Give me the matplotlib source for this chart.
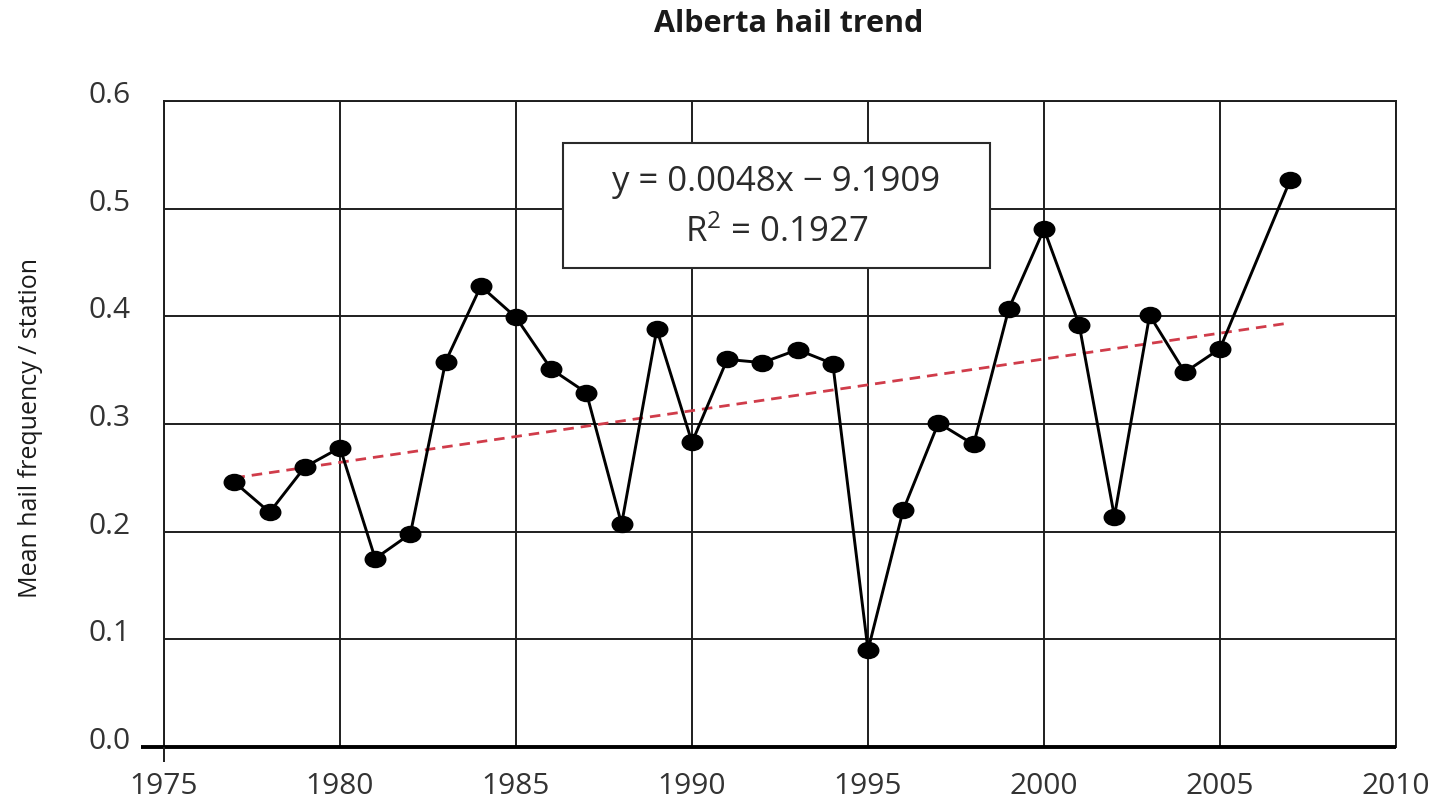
import numpy as np
import matplotlib
matplotlib.use("Agg")
import matplotlib.pyplot as plt
from matplotlib.path import Path
from matplotlib.patches import Rectangle
from matplotlib.transforms import Affine2D, ScaledTranslation

# ---- data ----
years = [1977, 1978, 1979, 1980, 1981, 1982, 1983, 1984, 1985, 1986,
         1987, 1988, 1989, 1990, 1991, 1992, 1993, 1994, 1995, 1996,
         1997, 1998, 1999, 2000, 2001, 2002, 2003, 2004, 2005, 2007]
hail = [0.246, 0.218, 0.260, 0.278, 0.175, 0.198, 0.358, 0.428, 0.399, 0.351,
        0.329, 0.207, 0.388, 0.283, 0.360, 0.357, 0.369, 0.356, 0.090, 0.220,
        0.301, 0.281, 0.407, 0.481, 0.392, 0.214, 0.401, 0.348, 0.370, 0.527]
trend_slope = 0.0048   # slope quoted in the chart's equation box
xticks = [1975, 1980, 1985, 1990, 1995, 2000, 2005, 2010]
yticks = [0.0, 0.1, 0.2, 0.3, 0.4, 0.5, 0.6]
ytick_labels = ["0.0", "0.1", "0.2", "0.3", "0.4", "0.5", "0.6"]
title = "Alberta hail trend"
ylabel = "Mean hail frequency / station"
eq_line1 = "y = 0.0048x \u2212 9.1909"
eq_line2 = "R$^{2}$ = 0.1927"

plt.rcParams['font.family'] = ['Open Sans', 'DejaVu Sans']
plt.rcParams['mathtext.fontset'] = 'custom'
plt.rcParams['mathtext.rm'] = 'Open Sans'
plt.rcParams['mathtext.it'] = 'Open Sans'
plt.rcParams['mathtext.default'] = 'regular'

W, H = 1434, 802
fig = plt.figure(figsize=(W / 100, H / 100), dpi=100)
ax_l, ax_r, ax_t, ax_b = 164, 1396, 101, 747
ax = fig.add_axes([ax_l / W, 1 - ax_b / H, (ax_r - ax_l) / W, (ax_b - ax_t) / H])

ax.set_xlim(1975, 2010)
ax.set_ylim(0, 0.6)
ax.set_xticks(xticks)
ax.set_yticks(yticks)
ax.set_yticklabels(ytick_labels)

gridc = '#1e1e1e'
ax.grid(True, color=gridc, linewidth=1.4, zorder=0)
ax.set_axisbelow(True)
ax.tick_params(axis='both', length=0, labelsize=21.5, labelcolor='#333333')
ax.tick_params(axis='x', pad=18)
ax.tick_params(axis='y', pad=24)

for t in ax.yaxis.get_major_ticks():
    t.label1.set_transform(t.label1.get_transform() +
                           ScaledTranslation(0, 9 / 100, fig.dpi_scale_trans))

for s in ['left', 'right', 'top']:
    ax.spines[s].set_linewidth(1.4)
    ax.spines[s].set_color(gridc)
ax.spines['bottom'].set_visible(False)

pw = ax_r - ax_l
ph = ax_b - ax_t
# thick x axis line extending left of y axis
ax.plot([-23 / pw, 1.0], [0, 0], transform=ax.transAxes, clip_on=False,
        color='black', linewidth=2.8, solid_capstyle='butt', zorder=5)
# y axis extending below x axis
ax.plot([0, 0], [0, -15 / ph], transform=ax.transAxes, clip_on=False,
        color=gridc, linewidth=1.4, solid_capstyle='butt', zorder=5)

# trend line: quoted slope through the data centroid
xm, ym = np.mean(years), np.mean(hail)
tx = np.array([years[0], years[-1]], dtype=float)
ax.plot(tx, ym + trend_slope * (tx - xm), color='#d03c4a', linewidth=2.0,
        linestyle=(0, (3.8, 2.5)), zorder=3)

# elliptical marker
circ = Path.unit_circle()
ell = Affine2D().scale(1.28, 1.0).transform_path(circ)
ax.plot(years, hail, color='black', linewidth=2.1, marker=ell,
        markersize=14.8, markerfacecolor='black', markeredgecolor='black',
        zorder=4)

# equation box
bx0, bx1, by0, by1 = 563, 990, 143, 268
rect = Rectangle(((bx0 - ax_l) / pw, (ax_b - by1) / ph), (bx1 - bx0) / pw,
                 (by1 - by0) / ph, transform=ax.transAxes, facecolor='white',
                 edgecolor='#2a2a2a', linewidth=1.5, zorder=6)
ax.add_patch(rect)
cx = ((bx0 + bx1) / 2 - ax_l) / pw
ax.text(cx, (ax_b - 191) / ph, eq_line1, transform=ax.transAxes, ha='center',
        va='baseline', fontsize=25, color='#2a2a2a', zorder=7)
ax.text(cx, (ax_b - 242) / ph, eq_line2, transform=ax.transAxes, ha='center',
        va='baseline', fontsize=25, color='#2a2a2a', zorder=7)

fig.text(789 / W, 1 - 24 / H, title, ha='center', va='center',
         fontsize=22, fontweight='bold', color='#1a1a1a')
fig.text(31 / W, 1 - 428 / H, ylabel, ha='center', va='center', rotation=90,
         fontsize=18, color='#1a1a1a')

fig.savefig('out.png', dpi=100)
